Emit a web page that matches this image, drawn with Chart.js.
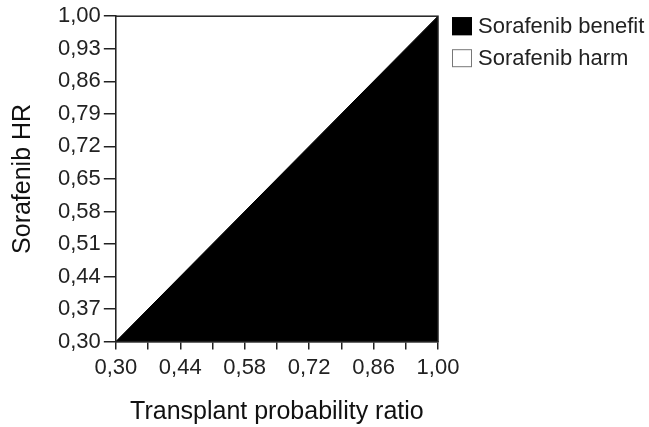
<!DOCTYPE html>
<html>
  <head>
    <title>Sorafenib HR</title>
    <script src="https://cdn.jsdelivr.net/npm/chart.js"></script>
    <style>
      html, body { margin: 0; padding: 0; background: #fff; }
      #wrap { width: 649px; height: 427px; }
    </style>
  </head>
  <body>
    <div id="wrap"><canvas id="hrChart" width="649" height="427"></canvas></div>

    <script>
      // Werte aus dem Bild
      var boundaryX = [0.3, 1.0]; // Transplant probability ratio
      var boundaryY = [0.3, 1.0]; // Sorafenib HR (Grenze benefit/harm)
      var tickValues = [0.30, 0.37, 0.44, 0.51, 0.58, 0.65, 0.72, 0.79, 0.86, 0.93, 1.00];
      var xLabeled = [0.30, 0.44, 0.58, 0.72, 0.86, 1.00];
      var legendNames = ["Sorafenib benefit", "Sorafenib harm"];
      var legendFill = ["#000", "#fff"];
      var legendStroke = ["#000", "#777"];

      var fontName = "'Liberation Sans', Arial, sans-serif";

      function fmt(v) {
        return v.toFixed(2).replace(".", ",");
      }

      var points = boundaryX.map(function (x, i) {
        return { x: x, y: boundaryY[i] };
      });

      // Rahmen um die Plotfläche
      var frame = {
        id: "frame",
        afterDatasetsDraw: function (chart) {
          var a = chart.chartArea;
          var ctx = chart.ctx;
          ctx.save();
          ctx.strokeStyle = "#222";
          ctx.lineWidth = 1.5;
          ctx.strokeRect(a.left, a.top, a.right - a.left, a.bottom - a.top);
          ctx.restore();
        },
      };

      // Legende rechts neben der Plotfläche
      var sideLegend = {
        id: "sideLegend",
        afterDraw: function (chart) {
          var a = chart.chartArea;
          var ctx = chart.ctx;
          ctx.save();
          ctx.font = "22px " + fontName;
          ctx.textBaseline = "middle";
          legendNames.forEach(function (name, i) {
            var bx = a.right + 14;
            var by = a.top + 1 + i * 32;
            ctx.fillStyle = legendFill[i];
            ctx.fillRect(bx, by, 20, 18);
            ctx.strokeStyle = legendStroke[i];
            ctx.lineWidth = 1;
            ctx.strokeRect(bx + 0.5, by + 0.5, 19, 17);
            ctx.fillStyle = "#222";
            ctx.fillText(name, bx + 26, by + 10);
          });
          ctx.restore();
        },
      };

      function setTicks(scale) {
        scale.ticks = tickValues.map(function (v) {
          return { value: v };
        });
      }

      new Chart(document.getElementById("hrChart").getContext("2d"), {
        type: "line",
        data: {
          datasets: [
            {
              label: legendNames[0],
              data: points,
              fill: "start",
              backgroundColor: "#000",
              borderColor: "#000",
              borderWidth: 1,
              pointRadius: 0,
              order: 1,
            },
            {
              label: legendNames[1],
              data: points,
              fill: "end",
              backgroundColor: "#fff",
              borderColor: "rgba(0,0,0,0)",
              borderWidth: 0,
              pointRadius: 0,
              order: 2,
            },
          ],
        },
        options: {
          responsive: false,
          animation: false,
          layout: { padding: { left: 8, top: 16, right: 211, bottom: 0 } },
          scales: {
            x: {
              type: "linear",
              min: 0.3,
              max: 1.0,
              afterBuildTicks: setTicks,
              grid: { drawOnChartArea: false, tickLength: 8, color: "#222", lineWidth: 1.5 },
              border: { color: "#222", width: 1.5 },
              ticks: {
                autoSkip: false,
                maxRotation: 0,
                padding: 5,
                color: "#222",
                font: { family: fontName, size: 22 },
                callback: function (v) {
                  var hit = xLabeled.some(function (t) {
                    return Math.abs(t - v) < 1e-6;
                  });
                  return hit ? fmt(v) : "";
                },
              },
              title: {
                display: true,
                text: "Transplant probability ratio",
                color: "#111",
                font: { family: fontName, size: 25 },
                padding: { top: 11, bottom: 0 },
              },
            },
            y: {
              min: 0.3,
              max: 1.0,
              afterBuildTicks: setTicks,
              grid: { drawOnChartArea: false, tickLength: 12, color: "#222", lineWidth: 1.5 },
              border: { color: "#222", width: 1.5 },
              ticks: {
                autoSkip: false,
                padding: 3,
                color: "#222",
                font: { family: fontName, size: 22 },
                callback: function (v) {
                  return fmt(v);
                },
              },
              title: {
                display: true,
                text: "Sorafenib HR",
                color: "#111",
                font: { family: fontName, size: 25 },
                padding: { top: 0, bottom: 17 },
              },
            },
          },
          plugins: {
            tooltip: { enabled: false },
            legend: { display: false },
          },
        },
        plugins: [frame, sideLegend],
      });
    </script>
  </body>
</html>
